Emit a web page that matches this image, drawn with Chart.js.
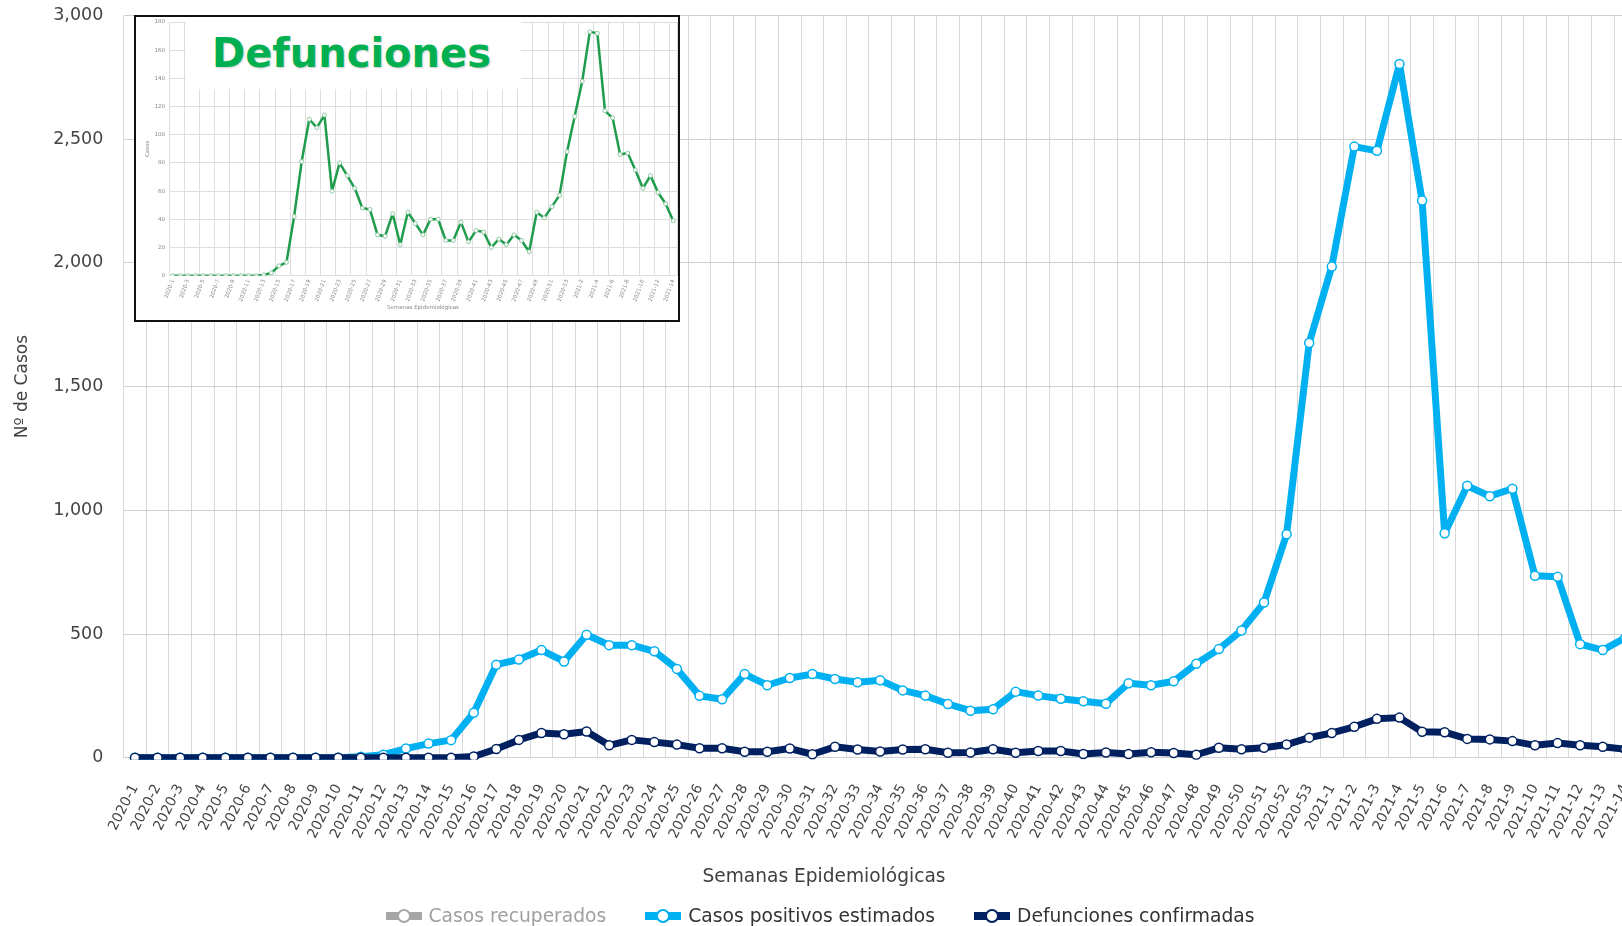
<!DOCTYPE html>
<html lang="es">
<head>
<meta charset="utf-8">
<title>Casos y defunciones por semana epidemiológica</title>
<script src="https://cdn.jsdelivr.net/npm/chart.js@4.4.1/dist/chart.umd.min.js"></script>
<style>
  html, body { margin: 0; padding: 0; background: #fff; }
  body { width: 1622px; height: 926px; overflow: hidden; position: relative; font-family: "DejaVu Sans", sans-serif; }
  #principal { position: absolute; left: 0; top: 0; }
  #titulo-x { position: absolute; left: 0; width: 1648px; top: 865px; text-align: center; font-size: 18.6px; line-height: 22px; color: #404040; }
  #leyenda { position: absolute; left: 0; width: 1640px; top: 905px; display: flex; justify-content: center; gap: 39px; font-size: 18.7px; line-height: 22px; color: #333; }
  #leyenda .item { display: flex; align-items: center; gap: 7px; white-space: nowrap; }
  #leyenda .simbolo { position: relative; width: 36px; height: 8px; }
  #leyenda .simbolo::after { content: ""; position: absolute; left: 11px; top: -3px; width: 10px; height: 10px; border-radius: 50%; background: #fff; border: 2px solid; border-color: inherit; }
  #recuadro { position: absolute; left: 134px; top: 15px; width: 542px; height: 303px; border: 2px solid #111; background: #fff; overflow: hidden; }
  #defunciones { position: absolute; left: 0; top: 0; }
  #rotulo { position: absolute; left: 50px; top: 2px; width: 335px; height: 70px; background: #fff; }
  #rotulo span { position: absolute; left: 26px; top: 14px; font: bold 40px/40px "DejaVu Sans", sans-serif; color: #00b050; text-shadow: 1px 1px 2px rgba(0,0,0,.2); }
</style>
</head>
<body>
<canvas id="principal" width="1660" height="926"></canvas>
<div id="titulo-x">Semanas Epidemiológicas</div>
<div id="leyenda"></div>
<div id="recuadro">
  <canvas id="defunciones" width="546" height="303"></canvas>
  <div id="rotulo"><span>Defunciones</span></div>
</div>
<script>
const SEMANAS = [
  "2020-1", "2020-2", "2020-3", "2020-4", "2020-5", "2020-6", "2020-7", "2020-8", "2020-9", "2020-10",
  "2020-11", "2020-12", "2020-13", "2020-14", "2020-15", "2020-16", "2020-17", "2020-18", "2020-19", "2020-20",
  "2020-21", "2020-22", "2020-23", "2020-24", "2020-25", "2020-26", "2020-27", "2020-28", "2020-29", "2020-30",
  "2020-31", "2020-32", "2020-33", "2020-34", "2020-35", "2020-36", "2020-37", "2020-38", "2020-39", "2020-40",
  "2020-41", "2020-42", "2020-43", "2020-44", "2020-45", "2020-46", "2020-47", "2020-48", "2020-49", "2020-50",
  "2020-51", "2020-52", "2020-53", "2021-1", "2021-2", "2021-3", "2021-4", "2021-5", "2021-6", "2021-7",
  "2021-8", "2021-9", "2021-10", "2021-11", "2021-12", "2021-13", "2021-14",
];

// serie desactivada en la leyenda: no se dibuja
const CASOS_RECUPERADOS = [];

const CASOS_POSITIVOS = [
  0, 0, 0, 0, 0, 0, 0, 0, 0, 0,
  4, 12, 37, 57, 71, 182, 376, 397, 435, 389,
  497, 455, 455, 430, 359, 250, 236, 338, 293, 322,
  338, 318, 305, 313, 272, 251, 217, 190, 196, 267,
  251, 238, 228, 218, 301, 293, 309, 380, 439, 514,
  627, 903, 1676, 1985, 2470, 2453, 2804, 2252, 907, 1099,
  1057, 1087, 735, 731, 459, 435, 485,
];

const DEFUNCIONES_CONFIRMADAS = [
  0, 0, 0, 0, 0, 0, 0, 0, 0, 0,
  0, 0, 0, 0, 0, 5, 35, 72, 100, 95,
  106, 50, 72, 63, 53, 38, 38, 24, 24, 37,
  14, 44, 33, 25, 33, 34, 20, 21, 34, 20,
  27, 27, 15, 21, 15, 22, 19, 12, 40, 34,
  40, 53, 81, 100, 125, 157, 162, 105, 103, 76,
  74, 67, 50, 59, 50, 44, 34,
];

// gráfico pequeño "Defunciones" (escala 0-180)
const DEFUNCIONES_RECUADRO = [
  0, 0, 0, 0, 0, 0, 0, 0, 0, 0,
  0, 0, 0.5, 2, 7, 9.5, 42, 81, 111, 105,
  114, 60, 80, 71, 62, 48, 47, 29, 28, 44,
  22, 45, 37, 29, 40, 40, 25, 25, 38, 24,
  32, 31, 20, 26, 22, 29, 25, 17, 45, 41,
  49, 57, 88, 113, 138, 173, 172, 117, 112, 86,
  87, 75, 62, 71, 59, 51, 39,
];

const TICKS_Y = [0, 500, 1000, 1500, 2000, 2500, 3000];
const TICKS_Y_RECUADRO = [0, 20, 40, 60, 80, 100, 120, 140, 160, 180];

const GRIS = "#a6a6a6";
const AZUL_CLARO = "#00b0f0";
const AZUL_OSCURO = "#002060";
const VERDE = "#1f9d4c";
const FUENTE = "DejaVu Sans";
const SIN_COLOR = "rgba(0,0,0,0)";

// leyenda en HTML (la serie de recuperados aparece atenuada)
const leyenda = [
  { texto: "Casos recuperados", color: GRIS, texColor: "#a0a0a0" },
  { texto: "Casos positivos estimados", color: AZUL_CLARO, texColor: "#333" },
  { texto: "Defunciones confirmadas", color: AZUL_OSCURO, texColor: "#333" },
];
document.getElementById("leyenda").innerHTML = leyenda.map(l =>
  `<div class="item"><span class="simbolo" style="background:${l.color};border-color:${l.color}"></span>` +
  `<span style="color:${l.texColor}">${l.texto}</span></div>`).join("");

function serie(nombre, datos, color, orden) {
  return {
    label: nombre,
    data: datos,
    borderColor: color,
    backgroundColor: color,
    borderWidth: 7,
    borderJoinStyle: "round",
    borderCapStyle: "round",
    pointRadius: 4.5,
    pointBorderWidth: 1.5,
    pointBackgroundColor: "#fff",
    pointBorderColor: color,
    tension: 0,
    clip: 2,
    order: orden,
  };
}

// la separación etiqueta-eje se hace con marcas invisibles (tickLength) para no inflar el área
new Chart(document.getElementById("principal"), {
  type: "line",
  data: {
    labels: SEMANAS,
    datasets: [
      { ...serie("Casos recuperados", CASOS_RECUPERADOS, GRIS, 2), hidden: true },
      serie("Casos positivos estimados", CASOS_POSITIVOS, AZUL_CLARO, 1),
      serie("Defunciones confirmadas", DEFUNCIONES_CONFIRMADAS, AZUL_OSCURO, 0),
    ],
  },
  options: {
    responsive: false,
    animation: false,
    locale: "en-US",
    layout: { padding: { top: 15.5, right: 23.4, bottom: 0, left: 0 } },
    plugins: { legend: { display: false }, tooltip: { enabled: false } },
    scales: {
      x: {
        offset: true,
        grid: { offset: true, color: "#d9d9d9", tickLength: 24, tickColor: SIN_COLOR },
        border: { display: false },
        ticks: {
          autoSkip: false, minRotation: 63, maxRotation: 63, padding: 0,
          font: { family: FUENTE, size: 14 }, color: "#444",
        },
        afterFit: s => { s.height = 168.3; },
      },
      y: {
        min: 0,
        max: 3000,
        afterBuildTicks: s => { s.ticks = TICKS_Y.map(v => ({ value: v })); },
        grid: { color: "#d0d0d0", tickLength: 20.4, tickColor: SIN_COLOR },
        border: { display: false },
        ticks: { padding: 0, font: { family: FUENTE, size: 17.5 }, color: "#444" },
        title: {
          display: true, text: "Nº de Casos", color: "#404040",
          font: { family: FUENTE, size: 17 }, padding: { top: 12.5, bottom: 0 },
        },
        afterFit: s => { s.width = 123.7; },
      },
    },
  },
});

new Chart(document.getElementById("defunciones"), {
  type: "line",
  data: {
    labels: SEMANAS,
    datasets: [{
      label: "Defunciones",
      data: DEFUNCIONES_RECUADRO,
      borderColor: VERDE,
      borderWidth: 2.5,
      borderJoinStyle: "round",
      pointRadius: 2,
      pointBorderWidth: 1,
      pointBackgroundColor: "#fff",
      pointBorderColor: "#8fc9a2",
      tension: 0,
    }],
  },
  options: {
    responsive: false,
    animation: false,
    layout: { padding: { top: 3, right: 1, bottom: 0, left: 0 } },
    plugins: { legend: { display: false }, tooltip: { enabled: false } },
    scales: {
      x: {
        offset: true,
        grid: {
          offset: true, tickLength: 3, tickColor: SIN_COLOR,
          color: c => (c.index % 2 ? SIN_COLOR : "#dedede"),
        },
        border: { display: false },
        ticks: {
          autoSkip: false, minRotation: 70, maxRotation: 70, padding: 0,
          font: { family: FUENTE, size: 5.5 }, color: "#888",
          callback: (v, i) => (i % 2 ? "" : SEMANAS[i]),
        },
        title: {
          display: true, text: "Semanas Epidemiológicas", color: "#888",
          font: { family: FUENTE, size: 5.5 }, padding: { top: 0, bottom: 9 },
        },
        afterFit: s => { s.height = 44.3; },
      },
      y: {
        min: 0,
        max: 180,
        afterBuildTicks: s => { s.ticks = TICKS_Y_RECUADRO.map(v => ({ value: v })); },
        grid: { tickLength: 4, tickColor: SIN_COLOR, color: "#dedede" },
        border: { display: false },
        ticks: { padding: 0, font: { family: FUENTE, size: 5.5 }, color: "#888" },
        title: {
          display: true, text: "Casos", color: "#888",
          font: { family: FUENTE, size: 5.5 }, padding: { top: 8, bottom: 0 },
        },
        afterFit: s => { s.width = 33; },
      },
    },
  },
});
</script>
</body>
</html>
